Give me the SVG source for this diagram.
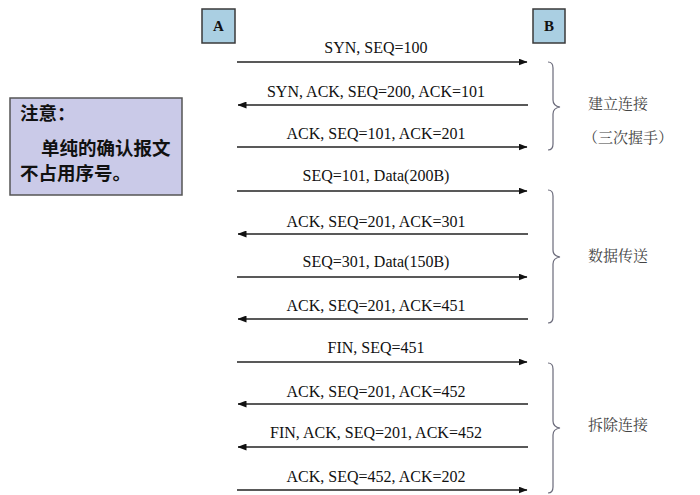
<svg xmlns="http://www.w3.org/2000/svg" width="700" height="495" viewBox="0 0 700 495">
<style>
.bg{fill:#ffffff}
.host{fill:#aacfe2;stroke:#3a3a3a;stroke-width:1.5}
.hl{font-family:"Liberation Serif",serif;font-weight:bold;font-size:15px;fill:#111;text-anchor:middle}
.msg{stroke:#222;stroke-width:1.4;fill:none}
.lbl{font-family:"Liberation Serif",serif;font-size:16px;fill:#111;text-anchor:middle}
.brace{stroke:#6a6a7a;stroke-width:1.2;fill:none}
.ph{font-family:"Noto Serif CJK SC","Noto Sans CJK SC",serif;font-size:15px;fill:#444;text-anchor:middle}
.note{fill:#cacae8;stroke:#555;stroke-width:1.5}
.nt{font-family:"Noto Sans CJK SC",sans-serif;font-weight:bold;font-size:18.5px;fill:#111}
</style>
<defs>
<marker id="ah" markerWidth="9" markerHeight="7" refX="8.5" refY="3.5" orient="auto" markerUnits="userSpaceOnUse">
<path d="M0,0 L9,3.5 L0,7 Z" fill="#111"/>
</marker>
</defs>
<rect class="bg" width="700" height="495"/>
<g id="hostA"><rect class="host" x="202" y="9" width="33" height="34"/><text class="hl" x="218.5" y="31">A</text></g>
<g id="hostB"><rect class="host" x="533" y="9" width="32" height="34"/><text class="hl" x="549" y="31">B</text></g>
<g id="note">
<rect class="note" x="10" y="98" width="172" height="97"/>
<text class="nt" x="20" y="120">注意：</text>
<text class="nt" x="41" y="155">单纯的确认报文</text>
<text class="nt" x="20" y="180">不占用序号。</text>
</g>
<g id="connectors">
<line class="msg" x1="237" y1="62" x2="527" y2="62" marker-end="url(#ah)"/>
<line class="msg" x1="528" y1="105" x2="238" y2="105" marker-end="url(#ah)"/>
<line class="msg" x1="237" y1="147" x2="527" y2="147" marker-end="url(#ah)"/>
<line class="msg" x1="237" y1="191" x2="527" y2="191" marker-end="url(#ah)"/>
<line class="msg" x1="528" y1="234" x2="238" y2="234" marker-end="url(#ah)"/>
<line class="msg" x1="237" y1="277" x2="527" y2="277" marker-end="url(#ah)"/>
<line class="msg" x1="528" y1="319" x2="238" y2="319" marker-end="url(#ah)"/>
<line class="msg" x1="237" y1="362" x2="527" y2="362" marker-end="url(#ah)"/>
<line class="msg" x1="528" y1="404" x2="238" y2="404" marker-end="url(#ah)"/>
<line class="msg" x1="528" y1="447" x2="238" y2="447" marker-end="url(#ah)"/>
<line class="msg" x1="237" y1="490" x2="527" y2="490" marker-end="url(#ah)"/>
</g>
<g id="labels">
<text class="lbl" x="376" y="53">SYN, SEQ=100</text>
<text class="lbl" x="376" y="97">SYN, ACK, SEQ=200, ACK=101</text>
<text class="lbl" x="376" y="139">ACK, SEQ=101, ACK=201</text>
<text class="lbl" x="376" y="181">SEQ=101, Data(200B)</text>
<text class="lbl" x="376" y="227">ACK, SEQ=201, ACK=301</text>
<text class="lbl" x="376" y="267">SEQ=301, Data(150B)</text>
<text class="lbl" x="376" y="311">ACK, SEQ=201, ACK=451</text>
<text class="lbl" x="376" y="353">FIN, SEQ=451</text>
<text class="lbl" x="376" y="397">ACK, SEQ=201, ACK=452</text>
<text class="lbl" x="376" y="438">FIN, ACK, SEQ=201, ACK=452</text>
<text class="lbl" x="376" y="482">ACK, SEQ=452, ACK=202</text>
</g>
<g id="phase1">
<path class="brace" d="M548,62 Q553,62 553,68 L553,100 Q553,106 560,107 Q553,108 553,114 L553,144 Q553,150 548,150"/>
<text class="ph" x="618" y="109">建立连接</text>
<text class="ph" x="628" y="143">（三次握手）</text>
</g>
<g id="phase2">
<path class="brace" d="M548,190 Q553,190 553,196 L553,250 Q553,256 560,257 Q553,258 553,264 L553,317 Q553,323 548,323"/>
<text class="ph" x="618" y="261">数据传送</text>
</g>
<g id="phase3">
<path class="brace" d="M548,363 Q553,363 553,369 L553,421 Q553,427 560,428 Q553,429 553,435 L553,487 Q553,493 548,493"/>
<text class="ph" x="618" y="430">拆除连接</text>
</g>
</svg>
